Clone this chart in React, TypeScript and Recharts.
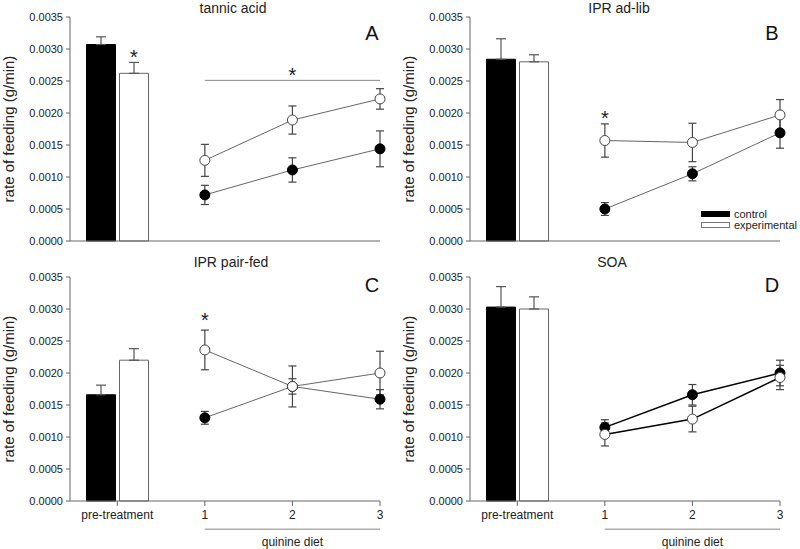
import React from "react";
import {
  ComposedChart,
  Bar,
  Line,
  XAxis,
  YAxis,
  ErrorBar,
  ReferenceLine,
  ReferenceDot,
  LabelList,
} from "recharts";

// first value = pre-treatment (bars), then quinine diet days 1-3 (lines)
const xPos = [0, 1, 2, 3];
const xLabels = ["pre-treatment", "1", "2", "3"];
const yTicks = [0, 0.0005, 0.001, 0.0015, 0.002, 0.0025, 0.003, 0.0035];
const seriesNames = ["control", "experimental"];
const seriesFills = ["#000", "#fff"];

const tannicCtrl = [0.00307, 0.00072, 0.00111, 0.00144];
const tannicCtrlErr = [0.00012, 0.00015, 0.00019, 0.00028];
const tannicExp = [0.00262, 0.00126, 0.00189, 0.00222];
const tannicExpErr = [0.00017, 0.00025, 0.00022, 0.00016];

const adlibCtrl = [0.00284, 0.0005, 0.00105, 0.00169];
const adlibCtrlErr = [0.00032, 0.0001, 0.00011, 0.00024];
const adlibExp = [0.0028, 0.00157, 0.00154, 0.00197];
const adlibExpErr = [0.00011, 0.00026, 0.0003, 0.00024];

const pairCtrl = [0.00166, 0.0013, 0.00179, 0.00159];
const pairCtrlErr = [0.00015, 0.0001, 0.00012, 0.00015];
const pairExp = [0.0022, 0.00236, 0.00179, 0.002];
const pairExpErr = [0.00018, 0.00031, 0.00032, 0.00034];

const soaCtrl = [0.00303, 0.00115, 0.00166, 0.002];
const soaCtrlErr = [0.00032, 0.00012, 0.00016, 0.0002];
const soaExp = [0.003, 0.00104, 0.00128, 0.00193];
const soaExpErr = [0.00019, 0.00018, 0.0002, 0.00019];

const FONT = "'Liberation Sans', Arial, sans-serif";
const AXIS = "#666";
const STAR = { fontSize: 20, fill: "#222", fontFamily: FONT };

function buildRows(ctrl: number[], ctrlErr: number[], exp: number[], expErr: number[], barStar = "") {
  return xPos.map((x, i) =>
    i === 0
      ? {
          x,
          ctrlBar: ctrl[i],
          ctrlBarErr: [0, ctrlErr[i]],
          expBar: exp[i],
          expBarErr: [0, expErr[i]],
          barStar,
        }
      : { x, ctrl: ctrl[i], ctrlErr: ctrlErr[i], exp: exp[i], expErr: expErr[i] }
  );
}

function LegendBox({ left, top }: { left: number; top: number }) {
  return (
    <div style={{ position: "absolute", left, top, fontFamily: FONT, fontSize: 11, color: "#222" }}>
      {seriesNames.map((name, i) => (
        <div key={name} style={{ display: "flex", alignItems: "center", height: 11 }}>
          <span
            style={{
              display: "inline-block",
              width: 27,
              height: 4,
              background: seriesFills[i],
              border: "1px solid " + (i === 0 ? "#000" : "#777"),
              marginRight: 4,
            }}
          />
          {name}
        </div>
      ))}
    </div>
  );
}

type PanelProps = {
  left: number;
  top: number;
  bottomRow: boolean;
  title: string;
  titleX: number;
  letter: string;
  rows: any[];
  lineColor: string;
  stars: { x: number; y: number }[];
  sigLine?: number;
  legend?: boolean;
};

function Panel(p: PanelProps) {
  const h = p.bottomRow ? 287 : 262;
  const margin = p.bottomRow
    ? { top: 15, right: 20, bottom: 23, left: 8 }
    : { top: 17, right: 20, bottom: 1, left: 8 };
  const titleY = p.bottomRow ? 0 : 8;
  return (
    <div style={{ position: "absolute", left: p.left, top: p.top, width: 400, height: h }}>
      <ComposedChart width={400} height={h} data={p.rows} margin={margin}>
        <XAxis
          type="number"
          dataKey="x"
          domain={[-0.54, 3]}
          ticks={xPos}
          interval={0}
          tickFormatter={(v: number) => xLabels[v]}
          tick={p.bottomRow ? { fontSize: 12, fill: "#222", fontFamily: FONT } : false}
          tickSize={5}
          tickMargin={4}
          height={p.bottomRow ? 25 : 20}
          axisLine={{ stroke: AXIS }}
          tickLine={{ stroke: AXIS }}
        />
        <YAxis
          type="number"
          domain={[0, 0.0035]}
          ticks={yTicks}
          interval={0}
          width={62}
          tickFormatter={(v: number) => v.toFixed(4)}
          tick={{ fontSize: 11, fill: "#222", fontFamily: FONT }}
          tickSize={4}
          tickMargin={3}
          axisLine={{ stroke: AXIS }}
          tickLine={{ stroke: AXIS }}
          label={{
            value: "rate of feeding (g/min)",
            angle: -90,
            position: "insideLeft",
            offset: 1,
            style: { textAnchor: "middle", fontSize: 15, fill: "#222", fontFamily: FONT },
          }}
        />
        <Bar dataKey="ctrlBar" name="control" fill="#000" stroke="#000" barSize={29} isAnimationActive={false}>
          <ErrorBar dataKey="ctrlBarErr" width={5} stroke="#555" strokeWidth={1.2} direction="y" />
        </Bar>
        <Bar dataKey="expBar" name="experimental" fill="#fff" stroke="#666" barSize={29} isAnimationActive={false}>
          <ErrorBar dataKey="expBarErr" width={5} stroke="#555" strokeWidth={1.2} direction="y" />
          <LabelList dataKey="barStar" position="top" offset={9} style={STAR} />
        </Bar>
        <Line
          dataKey="ctrl"
          stroke={p.lineColor}
          strokeWidth={p.lineColor === "#000" ? 1.5 : 1}
          dot={{ r: 5, fill: "#000", stroke: "#000", strokeWidth: 1 }}
          isAnimationActive={false}
        >
          <ErrorBar dataKey="ctrlErr" width={4} stroke="#444" strokeWidth={1.2} direction="y" />
        </Line>
        <Line
          dataKey="exp"
          stroke={p.lineColor}
          strokeWidth={p.lineColor === "#000" ? 1.5 : 1}
          dot={{ r: 5, fill: "#fff", stroke: "#444", strokeWidth: 1 }}
          isAnimationActive={false}
        >
          <ErrorBar dataKey="expErr" width={4} stroke="#444" strokeWidth={1.2} direction="y" />
        </Line>
        {p.sigLine !== undefined && (
          <ReferenceLine
            segment={[
              { x: 1, y: p.sigLine },
              { x: 3, y: p.sigLine },
            ]}
            stroke="#888"
            ifOverflow="visible"
          />
        )}
        {p.stars.map((s, i) => (
          <ReferenceDot
            key={i}
            x={s.x}
            y={s.y}
            r={0}
            fill="none"
            stroke="none"
            ifOverflow="visible"
            label={{ value: "*", position: "center", style: STAR }}
          />
        ))}
        {p.bottomRow && (
          <ReferenceLine
            segment={[
              { x: 1, y: -0.00044 },
              { x: 3, y: -0.00044 },
            ]}
            stroke="#888"
            ifOverflow="visible"
            label={{
              value: "quinine diet",
              position: "bottom",
              offset: 8,
              style: { fontSize: 12, fill: "#222", fontFamily: FONT },
            }}
          />
        )}
      </ComposedChart>
      {p.legend && <LegendBox left={301} top={208} />}
      <div
        style={{
          position: "absolute",
          left: p.titleX - 100,
          width: 200,
          top: titleY - 9,
          textAlign: "center",
          fontFamily: FONT,
          fontSize: 14,
          color: "#222",
          lineHeight: "18px",
        }}
      >
        {p.title}
      </div>
      <div
        style={{
          position: "absolute",
          left: 360,
          top: (p.bottomRow ? 23 : 33) - 12,
          width: 24,
          textAlign: "center",
          fontFamily: FONT,
          fontSize: 20,
          color: "#111",
          lineHeight: "24px",
        }}
      >
        {p.letter}
      </div>
    </div>
  );
}

export default function App() {
  return (
    <div style={{ position: "absolute", left: 0, top: 0, width: 800, height: 549, background: "#fff" }}>
      <Panel
        left={0}
        top={0}
        bottomRow={false}
        title="tannic acid"
        titleX={233}
        letter="A"
        rows={buildRows(tannicCtrl, tannicCtrlErr, tannicExp, tannicExpErr, "*")}
        lineColor="#666"
        stars={[{ x: 2, y: 0.00259 }]}
        sigLine={0.00251}
      />
      <Panel
        left={400}
        top={0}
        bottomRow={false}
        title="IPR ad-lib"
        titleX={219}
        letter="B"
        rows={buildRows(adlibCtrl, adlibCtrlErr, adlibExp, adlibExpErr)}
        lineColor="#666"
        stars={[{ x: 1, y: 0.00193 }]}
        legend
      />
      <Panel
        left={0}
        top={262}
        bottomRow
        title="IPR pair-fed"
        titleX={231}
        letter="C"
        rows={buildRows(pairCtrl, pairCtrlErr, pairExp, pairExpErr)}
        lineColor="#666"
        stars={[{ x: 1, y: 0.00283 }]}
      />
      <Panel
        left={400}
        top={262}
        bottomRow
        title="SOA"
        titleX={212}
        letter="D"
        rows={buildRows(soaCtrl, soaCtrlErr, soaExp, soaExpErr)}
        lineColor="#000"
        stars={[]}
      />
    </div>
  );
}
